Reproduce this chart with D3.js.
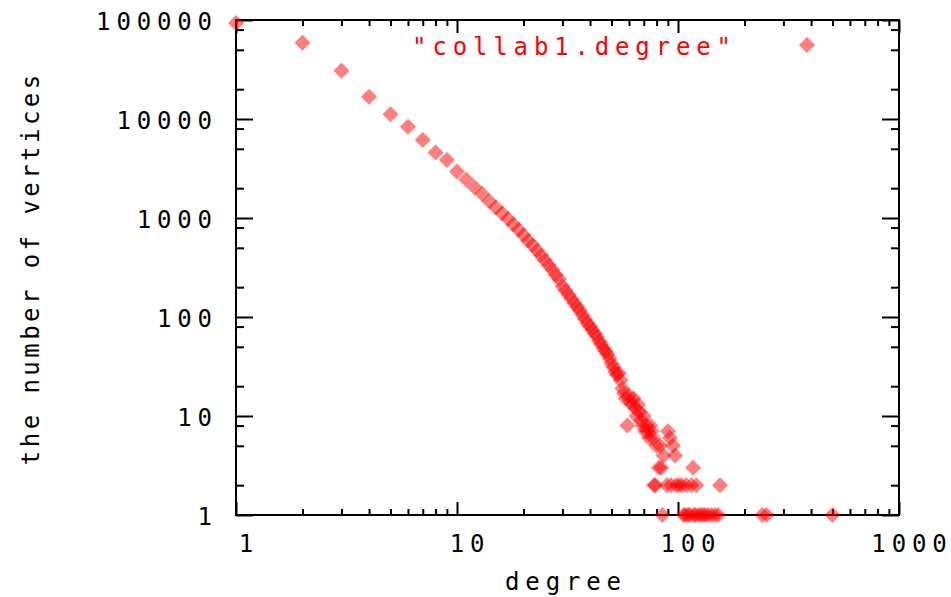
<!DOCTYPE html>
<html>
<head>
<meta charset="utf-8">
<script src="https://cdn.jsdelivr.net/npm/d3@7"></script>
<style>
  body { margin: 0; background: #fff; }
  text { font-family: "DejaVu Sans Mono", monospace; font-size: 24px; }
</style>
</head>
<body>
<div id="chart-area"></div>
<script>
// degree -> number of vertices with that degree
const degree = [
  1, 2, 3, 4, 5, 6, 7, 8, 9, 10, 11, 12, 13, 14, 15, 16, 17, 18, 19, 20,
  21, 22, 23, 24, 25, 26, 27, 28, 29, 30, 31, 32, 33, 34, 35, 36, 37, 38, 39, 40,
  41, 42, 43, 44, 45, 46, 47, 48, 49, 50, 51, 52, 53, 54, 55, 56, 57, 58, 59, 60,
  61, 62, 63, 64, 65, 66, 67, 68, 69, 70, 71, 72, 73, 74, 75, 76, 77, 78, 79, 80,
  82, 83, 84, 85, 86, 89, 90, 92, 93, 95, 97, 98, 101, 104, 106, 108, 109, 111, 113, 115,
  117, 118, 120, 121, 124, 127, 130, 133, 137, 142, 147, 152, 155, 241, 252, 500
]
const vertices = [
  93000, 59000, 30800, 16800, 11150, 8360, 6140, 4600, 3850, 2950, 2450, 2050, 1750, 1480, 1280, 1120, 980, 860, 760, 670,
  590, 530, 470, 420, 375, 335, 300, 265, 240, 205, 185, 168, 152, 138, 126, 116, 104, 95, 86, 80,
  74, 68, 63, 57, 53, 48, 45, 42, 38, 34, 31, 28, 26, 27, 23, 19, 17, 15, 8, 16,
  14, 13, 15, 12, 10, 13, 11, 9, 8, 10, 7, 8, 7, 6, 8, 7, 6, 2, 2, 5,
  3, 5, 3, 1, 4, 2, 7, 6, 2, 5, 4, 2, 2, 2, 1, 1, 2, 1, 1, 2,
  3, 1, 1, 2, 1, 1, 1, 1, 1, 1, 1, 1, 2, 1, 1, 1
]

const xTicks = [1, 10, 100, 1000]
const yTicks = [1, 10, 100, 1000, 10000, 100000]
const seriesName = '"collab1.degree"'

const WIDTH = 951
const HEIGHT = 597
const PLOT = { LEFT: 236, RIGHT: 899, TOP: 20, BOTTOM: 515 }
const RED = "#ff0000"
const CHAR = 20.3   // gnuplot's wide character cell
const GLYPH = 14.4  // advance of the last glyph

const svg = d3.select("#chart-area").append("svg")
  .attr("width", WIDTH)
  .attr("height", HEIGHT)

const x = d3.scaleLog().domain([1, 1000]).range([PLOT.LEFT, PLOT.RIGHT])
const y = d3.scaleLog().domain([1, 100000]).range([PLOT.BOTTOM, PLOT.TOP])

// spread the characters out to the cell width, without trailing space
function spaced(sel, cell) {
  sel.attr("lengthAdjust", "spacing")
    .attr("textLength", function () {
      const n = this.textContent.length
      return (n - 1) * cell + GLYPH
    })
}

// minor ticks: 2..9 on x, only 2,5,8 on y (as in the original)
const xMinor = []
xTicks.slice(0, -1).forEach(t => { for (let k = 2; k <= 9; k++) xMinor.push(t * k) })
const yMinor = []
yTicks.slice(0, -1).forEach(t => { [2, 5, 8].forEach(k => yMinor.push(t * k)) })

function styleAxis(g) {
  g.select(".domain").remove()
  g.selectAll("line").attr("stroke", "#000").attr("stroke-width", 2)
  g.selectAll("text").remove()
}

// bottom / top
svg.append("g").attr("transform", `translate(0,${PLOT.BOTTOM})`)
  .call(d3.axisBottom(x).tickValues(xTicks).tickSize(-13)).call(styleAxis)
svg.append("g").attr("transform", `translate(0,${PLOT.BOTTOM})`)
  .call(d3.axisBottom(x).tickValues(xMinor).tickSize(-6)).call(styleAxis)
svg.append("g").attr("transform", `translate(0,${PLOT.TOP})`)
  .call(d3.axisTop(x).tickValues(xTicks).tickSize(-13)).call(styleAxis)
svg.append("g").attr("transform", `translate(0,${PLOT.TOP})`)
  .call(d3.axisTop(x).tickValues(xMinor).tickSize(-6)).call(styleAxis)
// left / right
svg.append("g").attr("transform", `translate(${PLOT.LEFT},0)`)
  .call(d3.axisLeft(y).tickValues(yTicks).tickSize(-17)).call(styleAxis)
svg.append("g").attr("transform", `translate(${PLOT.LEFT},0)`)
  .call(d3.axisLeft(y).tickValues(yMinor).tickSize(-8)).call(styleAxis)
svg.append("g").attr("transform", `translate(${PLOT.RIGHT},0)`)
  .call(d3.axisRight(y).tickValues(yTicks).tickSize(-17)).call(styleAxis)
svg.append("g").attr("transform", `translate(${PLOT.RIGHT},0)`)
  .call(d3.axisRight(y).tickValues(yMinor).tickSize(-8)).call(styleAxis)

// border
svg.append("rect")
  .attr("x", PLOT.LEFT).attr("y", PLOT.TOP)
  .attr("width", PLOT.RIGHT - PLOT.LEFT).attr("height", PLOT.BOTTOM - PLOT.TOP)
  .attr("fill", "none").attr("stroke", "#000").attr("stroke-width", 2)

// tick labels
svg.selectAll(".ylab").data(yTicks).join("text")
  .attr("class", "ylab")
  .attr("x", 212)
  .attr("y", d => y(d) + 9.5)
  .attr("text-anchor", "end")
  .text(d => d)
  .call(spaced, CHAR)

svg.selectAll(".xlab").data(xTicks).join("text")
  .attr("class", "xlab")
  .attr("x", d => x(d) + 10)
  .attr("y", 552)
  .attr("text-anchor", "middle")
  .text(d => d)
  .call(spaced, CHAR)

// axis titles
svg.append("text")
  .attr("x", 563).attr("y", 590)
  .attr("text-anchor", "middle")
  .text("degree")
  .call(spaced, CHAR)

svg.append("text")
  .attr("transform", "translate(39,270) rotate(-90)")
  .attr("text-anchor", "middle")
  .text("the number of vertices")
  .call(spaced, 17.9)

// points
const diamond = "M0,-8L8,0L0,8L-8,0Z"
const data = degree.map((d, i) => ({ degree: d, count: vertices[i] }))

svg.selectAll(".pt").data(data).join("path")
  .attr("class", "pt")
  .attr("d", diamond)
  .attr("transform", d => `translate(${x(d.degree)},${y(d.count)})`)
  .attr("fill", RED)
  .attr("fill-opacity", 0.5)

// key
svg.append("text")
  .attr("x", 731).attr("y", 55)
  .attr("text-anchor", "end")
  .attr("fill", RED)
  .text(seriesName)
  .call(spaced, CHAR)

svg.append("path")
  .attr("d", diamond)
  .attr("transform", "translate(807,45)")
  .attr("fill", RED)
  .attr("fill-opacity", 0.5)
</script>
</body>
</html>
